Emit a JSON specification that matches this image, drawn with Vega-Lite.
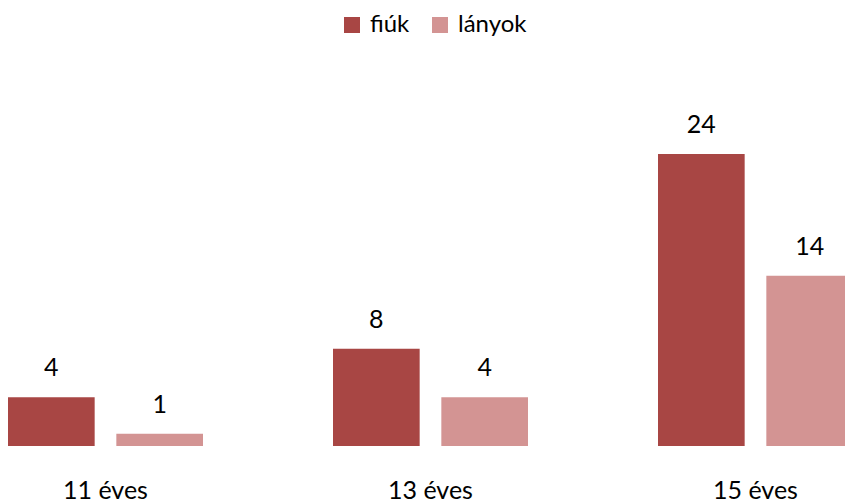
{
  "$schema": "https://vega.github.io/schema/vega-lite/v6.json",
  "width": 845,
  "height": 365,
  "autosize": {"type": "none"},
  "padding": {"top": 81, "left": 0, "right": 0, "bottom": 56},
  "background": "white",
  "config": {"view": {"stroke": null}, "font": "Lato"},
  "data": {
    "values": [
      {"age": "11 éves", "group": "fiúk", "value": 4},
      {"age": "11 éves", "group": "lányok", "value": 1},
      {"age": "13 éves", "group": "fiúk", "value": 8},
      {"age": "13 éves", "group": "lányok", "value": 4},
      {"age": "15 éves", "group": "fiúk", "value": 24},
      {"age": "15 éves", "group": "lányok", "value": 14}
    ]
  },
  "encoding": {
    "x": {
      "field": "age", "type": "nominal", "sort": null,
      "scale": {"range": [8, 853], "paddingInner": 0.4, "paddingOuter": 0},
      "axis": {"title": null, "domain": false, "ticks": false, "tickSize": 0, "labelAngle": 0,
               "labelFont": "Lato", "labelFontSize": 25, "labelColor": "#000000",
               "labelBaseline": "alphabetic", "labelPadding": 52}
    },
    "xOffset": {"field": "group", "type": "nominal", "sort": ["fiúk", "lányok"],
                "scale": {"paddingInner": 0.2, "paddingOuter": 0}},
    "y": {
      "field": "value", "type": "quantitative",
      "scale": {"domain": [0, 30], "nice": false},
      "axis": null
    }
  },
  "layer": [
    {
      "mark": {"type": "bar"},
      "encoding": {
        "color": {
          "field": "group", "type": "nominal", "sort": ["fiúk", "lányok"],
          "scale": {"domain": ["fiúk", "lányok"], "range": ["#A84644", "#D39493"]},
          "legend": {
            "title": null, "orient": "none", "direction": "horizontal",
            "legendX": 340, "legendY": -68,
            "symbolType": "square", "symbolSize": 256, "symbolStrokeWidth": 0,
            "labelFont": "Lato", "labelFontSize": 24, "labelColor": "#000000",
            "labelOffset": 6, "columnPadding": 18
          }
        }
      }
    },
    {
      "mark": {"type": "text", "baseline": "alphabetic", "align": "center", "dy": -21,
               "font": "Lato", "fontSize": 25, "color": "#000000"},
      "encoding": {"text": {"field": "value", "type": "quantitative"}}
    }
  ]
}
